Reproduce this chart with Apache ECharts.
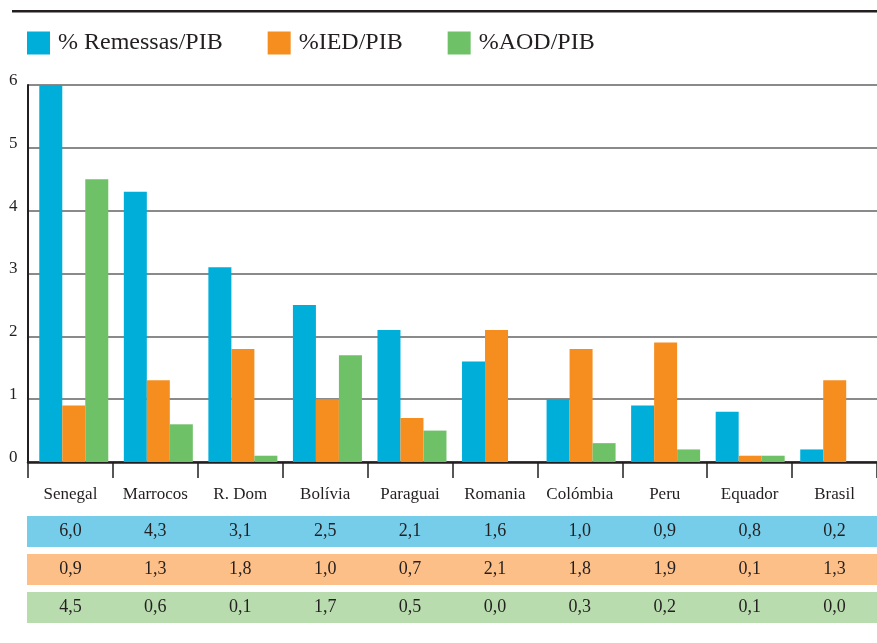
<!DOCTYPE html>
<html>
<head>
<meta charset="utf-8">
<style>
  html, body { margin: 0; padding: 0; background: #fff; }
  #chart { width: 877px; height: 643px; }
</style>
<script src="https://cdn.jsdelivr.net/npm/echarts@6/dist/echarts.min.js"></script>
</head>
<body>
<div id="chart"></div>
<script>
// Country categories
var countries = ['Senegal', 'Marrocos', 'R. Dom', 'Bolívia', 'Paraguai', 'Romania', 'Colómbia', 'Peru', 'Equador', 'Brasil'];
// Series names
var seriesNames = ['% Remessas/PIB', '%IED/PIB', '%AOD/PIB'];
// Shares of GDP (%)
var remessas = [6.0, 4.3, 3.1, 2.5, 2.1, 1.6, 1.0, 0.9, 0.8, 0.2];
var ied = [0.9, 1.3, 1.8, 1.0, 0.7, 2.1, 1.8, 1.9, 0.1, 1.3];
var aod = [4.5, 0.6, 0.1, 1.7, 0.5, 0.0, 0.3, 0.2, 0.1, 0.0];
// Value axis ticks
var yTicks = [0, 1, 2, 3, 4, 5, 6];

var FONT = '"Liberation Serif", "DejaVu Serif", serif';
var INK = '#231f20';
var barColors = ['#00aeda', '#f68e1f', '#6fc167'];
var rowColors = ['#76cdea', '#fcbf88', '#b8dcae'];

function fmt(v) { return v.toFixed(1).replace('.', ','); }

var chart = echarts.init(document.getElementById('chart'));

var gridTop = 85, gridBottom = 181, gridLeft = 28, gridWidth = 853;

// Table rows: one category axis per series (no line), showing formatted values
var rowOffsets = [69.5, 107.5, 145.5];
var tableAxes = [remessas, ied, aod].map(function (arr, i) {
  return {
    type: 'category', gridIndex: 0, position: 'bottom', offset: rowOffsets[i],
    data: arr.map(fmt),
    axisLine: { show: false }, axisTick: { show: false }, splitLine: { show: false },
    axisLabel: { margin: 0, verticalAlign: 'middle', fontFamily: FONT, fontSize: 18, color: INK, interval: 0 }
  };
});

var option = {
  animation: false,
  backgroundColor: '#fff',
  legend: {
    left: 27, top: 31, padding: 0, itemWidth: 23, itemHeight: 23, itemGap: 45,
    icon: 'rect',
    data: seriesNames,
    textStyle: { fontFamily: FONT, fontSize: 24, color: INK, padding: [0, 0, 0, 3] }
  },
  grid: [
    { left: gridLeft, top: gridTop, bottom: gridBottom, width: gridWidth, containLabel: false },
    { left: gridLeft + 3.5, top: gridTop, bottom: gridBottom, width: gridWidth, containLabel: false }
  ],
  xAxis: [
    {
      type: 'category', gridIndex: 0, data: countries,
      axisLine: { lineStyle: { color: INK, width: 2.5 } },
      axisTick: { show: true, length: 16, lineStyle: { color: INK, width: 1.5 } },
      axisLabel: { margin: 24, fontFamily: FONT, fontSize: 17, color: INK, interval: 0 }
    }
  ].concat(tableAxes).concat([
    { type: 'category', gridIndex: 1, data: countries, show: false }
  ]),
  yAxis: [
    {
      type: 'value', gridIndex: 0, min: 0, max: 6, interval: 1,
      axisLine: { show: true, lineStyle: { color: INK, width: 2 } },
      axisTick: { show: false },
      splitLine: { lineStyle: { color: '#8a8a8a', width: 2 } },
      axisLabel: {
        align: 'left', margin: 19, fontFamily: FONT, fontSize: 17, color: INK,
        verticalAlign: 'bottom', lineHeight: 9,
        formatter: function (v) { return yTicks.indexOf(v) >= 0 ? String(v) : ''; }
      }
    },
    { type: 'value', gridIndex: 1, min: 0, max: 6, interval: 1, show: false, splitLine: { show: false } }
  ],
  graphic: [
    { type: 'rect', shape: { x: 12, y: 10, width: 865, height: 2.5 }, style: { fill: INK }, z: 10 },
    { type: 'rect', shape: { x: 27, y: 516, width: 850, height: 31 }, style: { fill: rowColors[0] }, z: -1 },
    { type: 'rect', shape: { x: 27, y: 554, width: 850, height: 31 }, style: { fill: rowColors[1] }, z: -1 },
    { type: 'rect', shape: { x: 27, y: 592, width: 850, height: 31 }, style: { fill: rowColors[2] }, z: -1 }
  ],
  series: [remessas, ied, aod].map(function (arr, i) {
    return {
      name: seriesNames[i], type: 'bar', xAxisIndex: 4, yAxisIndex: 1,
      data: arr, barWidth: 23, barGap: '0%',
      itemStyle: { color: barColors[i] }
    };
  })
};

chart.setOption(option);
</script>
</body>
</html>
